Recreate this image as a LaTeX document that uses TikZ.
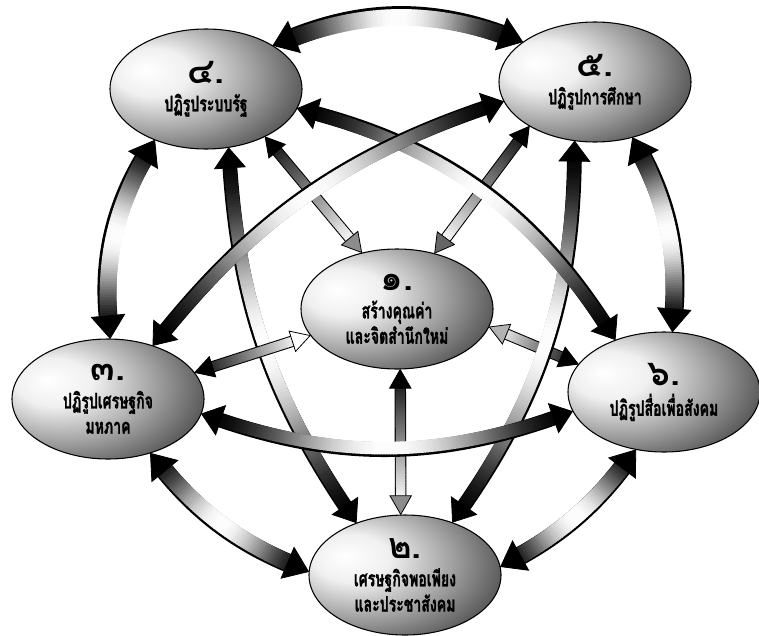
\documentclass[tikz,border=0pt]{standalone}
\usepackage{fontspec}
\usepackage{xcolor}
\usepackage{tikz}
\usetikzlibrary{shapes.geometric,decorations.markings}
\newfontfamily\thaifont[Script=Thai,FakeStretch=0.66,BoldFeatures={FakeBold=1.2}]{Loma}
\newfontfamily\thainum[Script=Thai]{Loma}

\pgfdeclareradialshading{eggshade}{\pgfpoint{-16bp}{8bp}}{%
  color(0bp)=(white); color(10bp)=(white!94!black); color(24bp)=(white!62!black);
  color(35bp)=(white!35!black); color(45bp)=(white!21!black); color(80bp)=(white!18!black)}

\newcommand{\goalno}[1]{{\thainum\fontsize{27}{24}\selectfont #1}}

% #1 shaft, #2 head width, #3 head length, #4 fade (0 both ends dark, 1 start dark), #5 end head colour, #6 path
\newcommand{\flowarrow}[6]{%
  \draw[line width=#1pt+1.6pt, shorten <=#3pt-1pt, shorten >=#3pt-1pt] #6;
  \path[decoration={markings, mark=between positions 0 and 1 step 0.7mm with {%
      \pgfmathsetmacro\pdist{\pgfkeysvalueof{/pgf/decoration/mark info/distance from start}}%
      \pgfmathsetmacro\plen{\pgfdecoratedpathlength}%
      \pgfmathsetmacro\fpos{\pdist/\plen}%
      \pgfmathtruncatemacro\inside{and(\pdist>#3-1.5,\pdist<\plen-#3+1.5)}%
      \ifnum\inside=1
        \ifnum#4=0 \pgfmathtruncatemacro\wh{100*sin(180*\fpos)*sin(180*\fpos)}%
        \else \pgfmathtruncatemacro\wh{min(100,110*\fpos)}\fi
        \draw[line width=#1pt, white!\wh!black] (-0.45mm,0) -- (0.45mm,0);
      \fi}}, decorate] #6;
  \path[decoration={markings,
      mark=at position 0 with {\filldraw[fill=black, draw=black, line width=0.6pt] (0,0) -- (#3pt,#2pt/2) -- (#3pt,-#2pt/2) -- cycle;},
      mark=at position 0.9995 with {\filldraw[fill=#5, draw=black, line width=0.6pt] (0,0) -- (-#3pt,#2pt/2) -- (-#3pt,-#2pt/2) -- cycle;}}, decorate] #6;
}
\newcommand{\ringarrow}[1]{\flowarrow{12.5}{25}{17}{0}{black}{#1}}
\newcommand{\crossarrow}[1]{\flowarrow{9.5}{23}{15}{0}{black}{#1}}
\newcommand{\hubarrow}[2][black!45]{\flowarrow{7}{16}{14}{1}{#1}{#2}}

\tikzset{
  goal/.style={ellipse, draw=black, line width=0.8pt, shading=eggshade, inner sep=0pt,
    minimum width=144pt, minimum height=90pt, align=center,
    font=\thaifont\bfseries\fontsize{16}{19}\selectfont},
}

\begin{document}
\begin{tikzpicture}[x=0.75pt,y=0.75pt,yscale=-1,xscale=1]
\useasboundingbox (0,0) rectangle (759,635);

%Shape: Ellipse
\node[goal] (e1) at (397,309) {\goalno{๑.}\\[2pt]สร้างคุณค่า\\และจิตสำนึกใหม่};
%Shape: Ellipse
\node[goal] (e2) at (405,575) {\goalno{๒.}\\[2pt]เศรษฐกิจพอเพียง\\และประชาสังคม};
%Shape: Ellipse
\node[goal] (e3) at (108,399) {\goalno{๓.}\\[2pt]ปฏิรูปเศรษฐกิจ\\มหภาค};
%Shape: Ellipse
\node[goal] (e4) at (206,89) {\goalno{๔.}\\[2pt]ปฏิรูประบบรัฐ};
%Shape: Ellipse
\node[goal] (e5) at (595,82) {\goalno{๕.}\\[2pt]ปฏิรูปการศึกษา};
%Shape: Ellipse
\node[goal] (e6) at (664,392) {\goalno{๖.}\\[4pt]ปฏิรูปสื่อเพื่อสังคม};

%Curve Lines (outer ring)
\ringarrow{(e4.33) to[bend right=21] (e5.151)}
\ringarrow{(e5.304) to[bend right=16] (e6.82)}
\ringarrow{(e6.244) to[bend right=12] (e2.5)}
\ringarrow{(e3.308) to[bend left=14] (e2.178)}
\ringarrow{(e4.225) to[bend left=18] (e3.88)}

%Straight Lines (to the centre)
\hubarrow{(e4.321) -- (e1.122)}
\hubarrow[black!60]{(e5.214) -- (e1.56)}
%Curve Lines
\crossarrow{(e4.291) to[bend left=15] (e2.133)}
%Straight Lines
\hubarrow[black!30]{(e6.162) -- (e1.349)}
%Curve Lines
\crossarrow{(e5.251) to[bend right=17] (e2.48)}
%Straight Lines
\hubarrow[white]{(e3.17) -- (e1.197)}
\hubarrow{(e1.273) -- (e2.94)}
%Curve Lines
\crossarrow{(e4.348) to[bend right=21] (e6.133)}
\crossarrow{(e3.50) to[bend right=16] (e5.192)}
\crossarrow{(e3.351) to[bend left=19] (e6.192)}

\end{tikzpicture}
\end{document}
